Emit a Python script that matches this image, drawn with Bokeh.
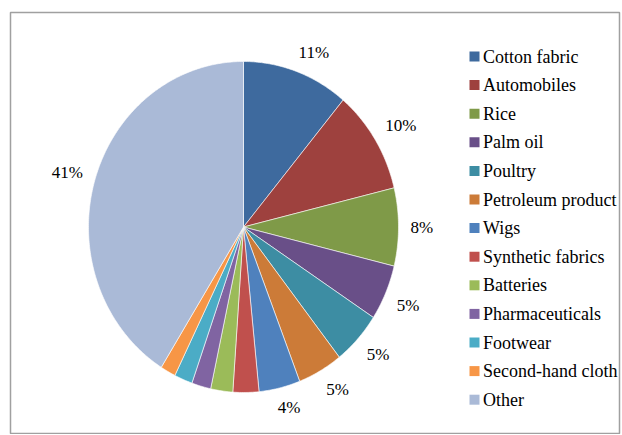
import numpy as np
from bokeh.plotting import figure
from bokeh.models import Range1d, Label
from bokeh.embed import file_html
from bokeh.resources import INLINE

categories = ["Cotton fabric", "Automobiles", "Rice", "Palm oil", "Poultry",
              "Petroleum product", "Wigs", "Synthetic fabrics", "Batteries",
              "Pharmaceuticals", "Footwear", "Second-hand cloth", "Other"]
shares = [11.1, 10.1, 7.6, 5.4, 5.2, 4.7, 4.3, 2.7, 2.3, 2.0, 1.9, 1.6, 41.1]
pct_labels = ["11%", "10%", "8%", "5%", "5%", "5%", "4%", "", "", "", "", "", "41%"]
colors = ["#3E6A9E", "#9E413E", "#7F9A48", "#694F88", "#3D8DA3", "#CC7B38",
          "#4F81BD", "#C0504D", "#9BBB59", "#8064A2", "#4BACC6", "#F79646",
          "#AABAD7"]

W, H = 621, 434
p = figure(width=W, height=H, output_backend="svg", toolbar_location=None,
           x_range=Range1d(11, 620), y_range=Range1d(13, 435),
           x_axis_location="above",
           min_border_left=10, min_border_right=2, min_border_top=12,
           min_border_bottom=0)
# axes kept but made invisible
p.axis.axis_line_color = None
p.axis.major_tick_line_color = None
p.axis.minor_tick_line_color = None
p.axis.major_tick_out = 0
p.axis.minor_tick_out = 0
p.axis.major_tick_in = 0
p.axis.minor_tick_in = 0
p.axis.major_label_standoff = 0
p.axis.major_label_text_font_size = "1px"
p.axis.major_label_text_alpha = 0
p.grid.grid_line_color = None
p.outline_line_color = "#a0a0a0"
p.outline_line_width = 1.5

# pie geometry (y upward in data space)
cx, cy, rx, ry = 244.0, 220.5, 155.0, 165.5
vals = np.array(shares, dtype=float)
frac = vals / vals.sum()
ends = np.cumsum(frac) * 2 * np.pi
starts = ends - frac * 2 * np.pi

xs, ys = [], []
for a0, a1 in zip(starts, ends):
    t = np.linspace(a0, a1, max(int((a1 - a0) * 80), 4))
    xs.append([cx] + list(cx + rx * np.sin(t)) + [cx])
    ys.append([cy] + list(cy + ry * np.cos(t)) + [cy])
p.patches(xs, ys, fill_color=colors, line_color="white", line_width=0.6)

# percentage labels
g, hh = 12.0, 8.0
for a0, a1, lab in zip(starts, ends, pct_labels):
    if not lab:
        continue
    m = 0.5 * (a0 + a1)
    s, c = np.sin(m), np.cos(m)
    hw = 0.5 * ((len(lab) - 1) * 0.5 + 0.833) * 17
    x = cx + (rx + g) * s + hw * np.clip(2.5 * s, -1, 1)
    y = cy + (ry + g) * c + hh * np.clip(2.5 * c, -1, 1)
    p.add_layout(Label(x=float(x), y=float(y), text=lab, text_align="center",
                       text_baseline="middle", text_font="Liberation Serif",
                       text_font_size="17px", text_color="#000000"))

# legend
lg_x, lg_y0, lg_dy = 475.0, 391.0, 28.6
ry_leg = [lg_y0 - i * lg_dy for i in range(len(categories))]
p.rect(x=[lg_x] * len(categories), y=ry_leg, width=10, height=10,
       width_units="screen", height_units="screen", fill_color=colors,
       line_color=None)
for yy, cat in zip(ry_leg, categories):
    p.add_layout(Label(x=lg_x + 8.5, y=yy, text=cat, text_align="left",
                       text_baseline="middle", text_font="Liberation Serif",
                       text_font_size="18px", text_color="#000000"))

open("out.html", "w").write(file_html(p, INLINE))
